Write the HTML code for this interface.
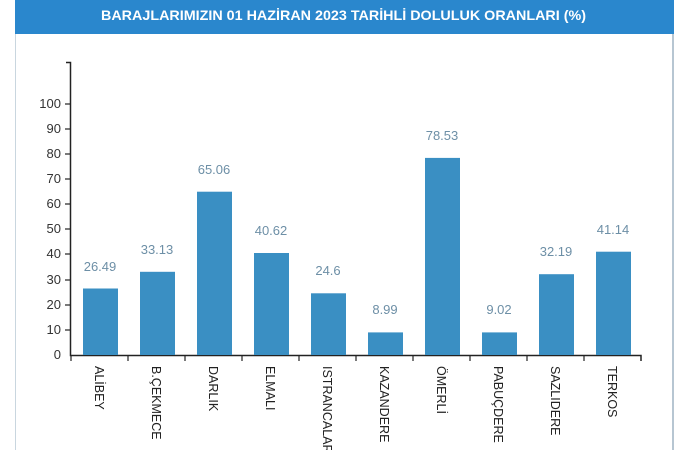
<!DOCTYPE html>
<html><head><meta charset="utf-8"><style>
body{margin:0;width:690px;height:450px;background:#fff;overflow:hidden;font-family:"Liberation Sans",sans-serif}
</style></head><body>
<svg width="690" height="450" xmlns="http://www.w3.org/2000/svg" font-family="Liberation Sans, sans-serif">
<rect x="15" y="0" width="659" height="34" fill="#2a87cd"/>
<line x1="15.5" y1="34" x2="15.5" y2="450" stroke="#c9d6df"/>
<line x1="673" y1="34" x2="673" y2="450" stroke="#9fb4c4" stroke-width="1.5"/>
<text x="101" y="20" textLength="485" lengthAdjust="spacingAndGlyphs" fill="#fff" font-size="14" font-weight="bold">BARAJLARIMIZIN 01 HAZİRAN 2023 TARİHLİ DOLULUK ORANLARI (%)</text>
<g stroke="#222" stroke-width="1.5" fill="none">
<path d="M66 62.5H70.5V355.5H641V361"/>
</g>
<g font-size="13" fill="#333" text-anchor="end">
<text x="61" y="108">100</text><text x="61" y="133">90</text><text x="61" y="158">80</text><text x="61" y="183">70</text><text x="61" y="208">60</text><text x="61" y="233">50</text><text x="61" y="258">40</text><text x="61" y="284">30</text><text x="61" y="309">20</text><text x="61" y="334">10</text><text x="61" y="359">0</text>
</g>
<g stroke="#222" stroke-width="1.2">
<line x1="65" x2="70" y1="104" y2="104"/><line x1="65" x2="70" y1="129" y2="129"/><line x1="65" x2="70" y1="154" y2="154"/><line x1="65" x2="70" y1="179" y2="179"/><line x1="65" x2="70" y1="204" y2="204"/><line x1="65" x2="70" y1="229" y2="229"/><line x1="65" x2="70" y1="254" y2="254"/><line x1="65" x2="70" y1="280" y2="280"/><line x1="65" x2="70" y1="305" y2="305"/><line x1="65" x2="70" y1="330" y2="330"/>
<line x1="71" x2="71" y1="355" y2="361"/><line x1="128" x2="128" y1="355" y2="361"/><line x1="185" x2="185" y1="355" y2="361"/><line x1="242" x2="242" y1="355" y2="361"/><line x1="299" x2="299" y1="355" y2="361"/><line x1="356" x2="356" y1="355" y2="361"/><line x1="413" x2="413" y1="355" y2="361"/><line x1="470" x2="470" y1="355" y2="361"/><line x1="527" x2="527" y1="355" y2="361"/><line x1="584" x2="584" y1="355" y2="361"/>
</g>
<g fill="#3a8fc3">
<rect x="83" y="288.5" width="35" height="66.5"/>
<rect x="140" y="271.8" width="35" height="83.2"/>
<rect x="197" y="191.7" width="35" height="163.3"/>
<rect x="254" y="253" width="35" height="102"/>
<rect x="311" y="293.3" width="35" height="61.7"/>
<rect x="368" y="332.4" width="35" height="22.6"/>
<rect x="425" y="157.9" width="35" height="197.1"/>
<rect x="482" y="332.4" width="35" height="22.6"/>
<rect x="539" y="274.2" width="35" height="80.8"/>
<rect x="596" y="251.7" width="35" height="103.3"/>
</g>
<g font-size="13" fill="#6d8fa6" text-anchor="middle">
<text x="100" y="271">26.49</text><text x="157" y="254">33.13</text><text x="214" y="174">65.06</text><text x="271" y="235">40.62</text><text x="328" y="275">24.6</text><text x="385" y="314">8.99</text><text x="442" y="140">78.53</text><text x="499" y="314">9.02</text><text x="556" y="256">32.19</text><text x="613" y="234">41.14</text>
</g>
<g font-size="12.5" fill="#222">
<text transform="translate(95,366) rotate(90)">ALİBEY</text>
<text transform="translate(152,366) rotate(90)">B.ÇEKMECE</text>
<text transform="translate(209,366) rotate(90)">DARLIK</text>
<text transform="translate(266,366) rotate(90)">ELMALI</text>
<text transform="translate(323,366) rotate(90)">ISTRANCALAR</text>
<text transform="translate(380,366) rotate(90)">KAZANDERE</text>
<text transform="translate(437,366) rotate(90)">ÖMERLİ</text>
<text transform="translate(494,366) rotate(90)">PABUÇDERE</text>
<text transform="translate(551,366) rotate(90)">SAZLIDERE</text>
<text transform="translate(608,366) rotate(90)">TERKOS</text>
</g>
</svg>
</body></html>
